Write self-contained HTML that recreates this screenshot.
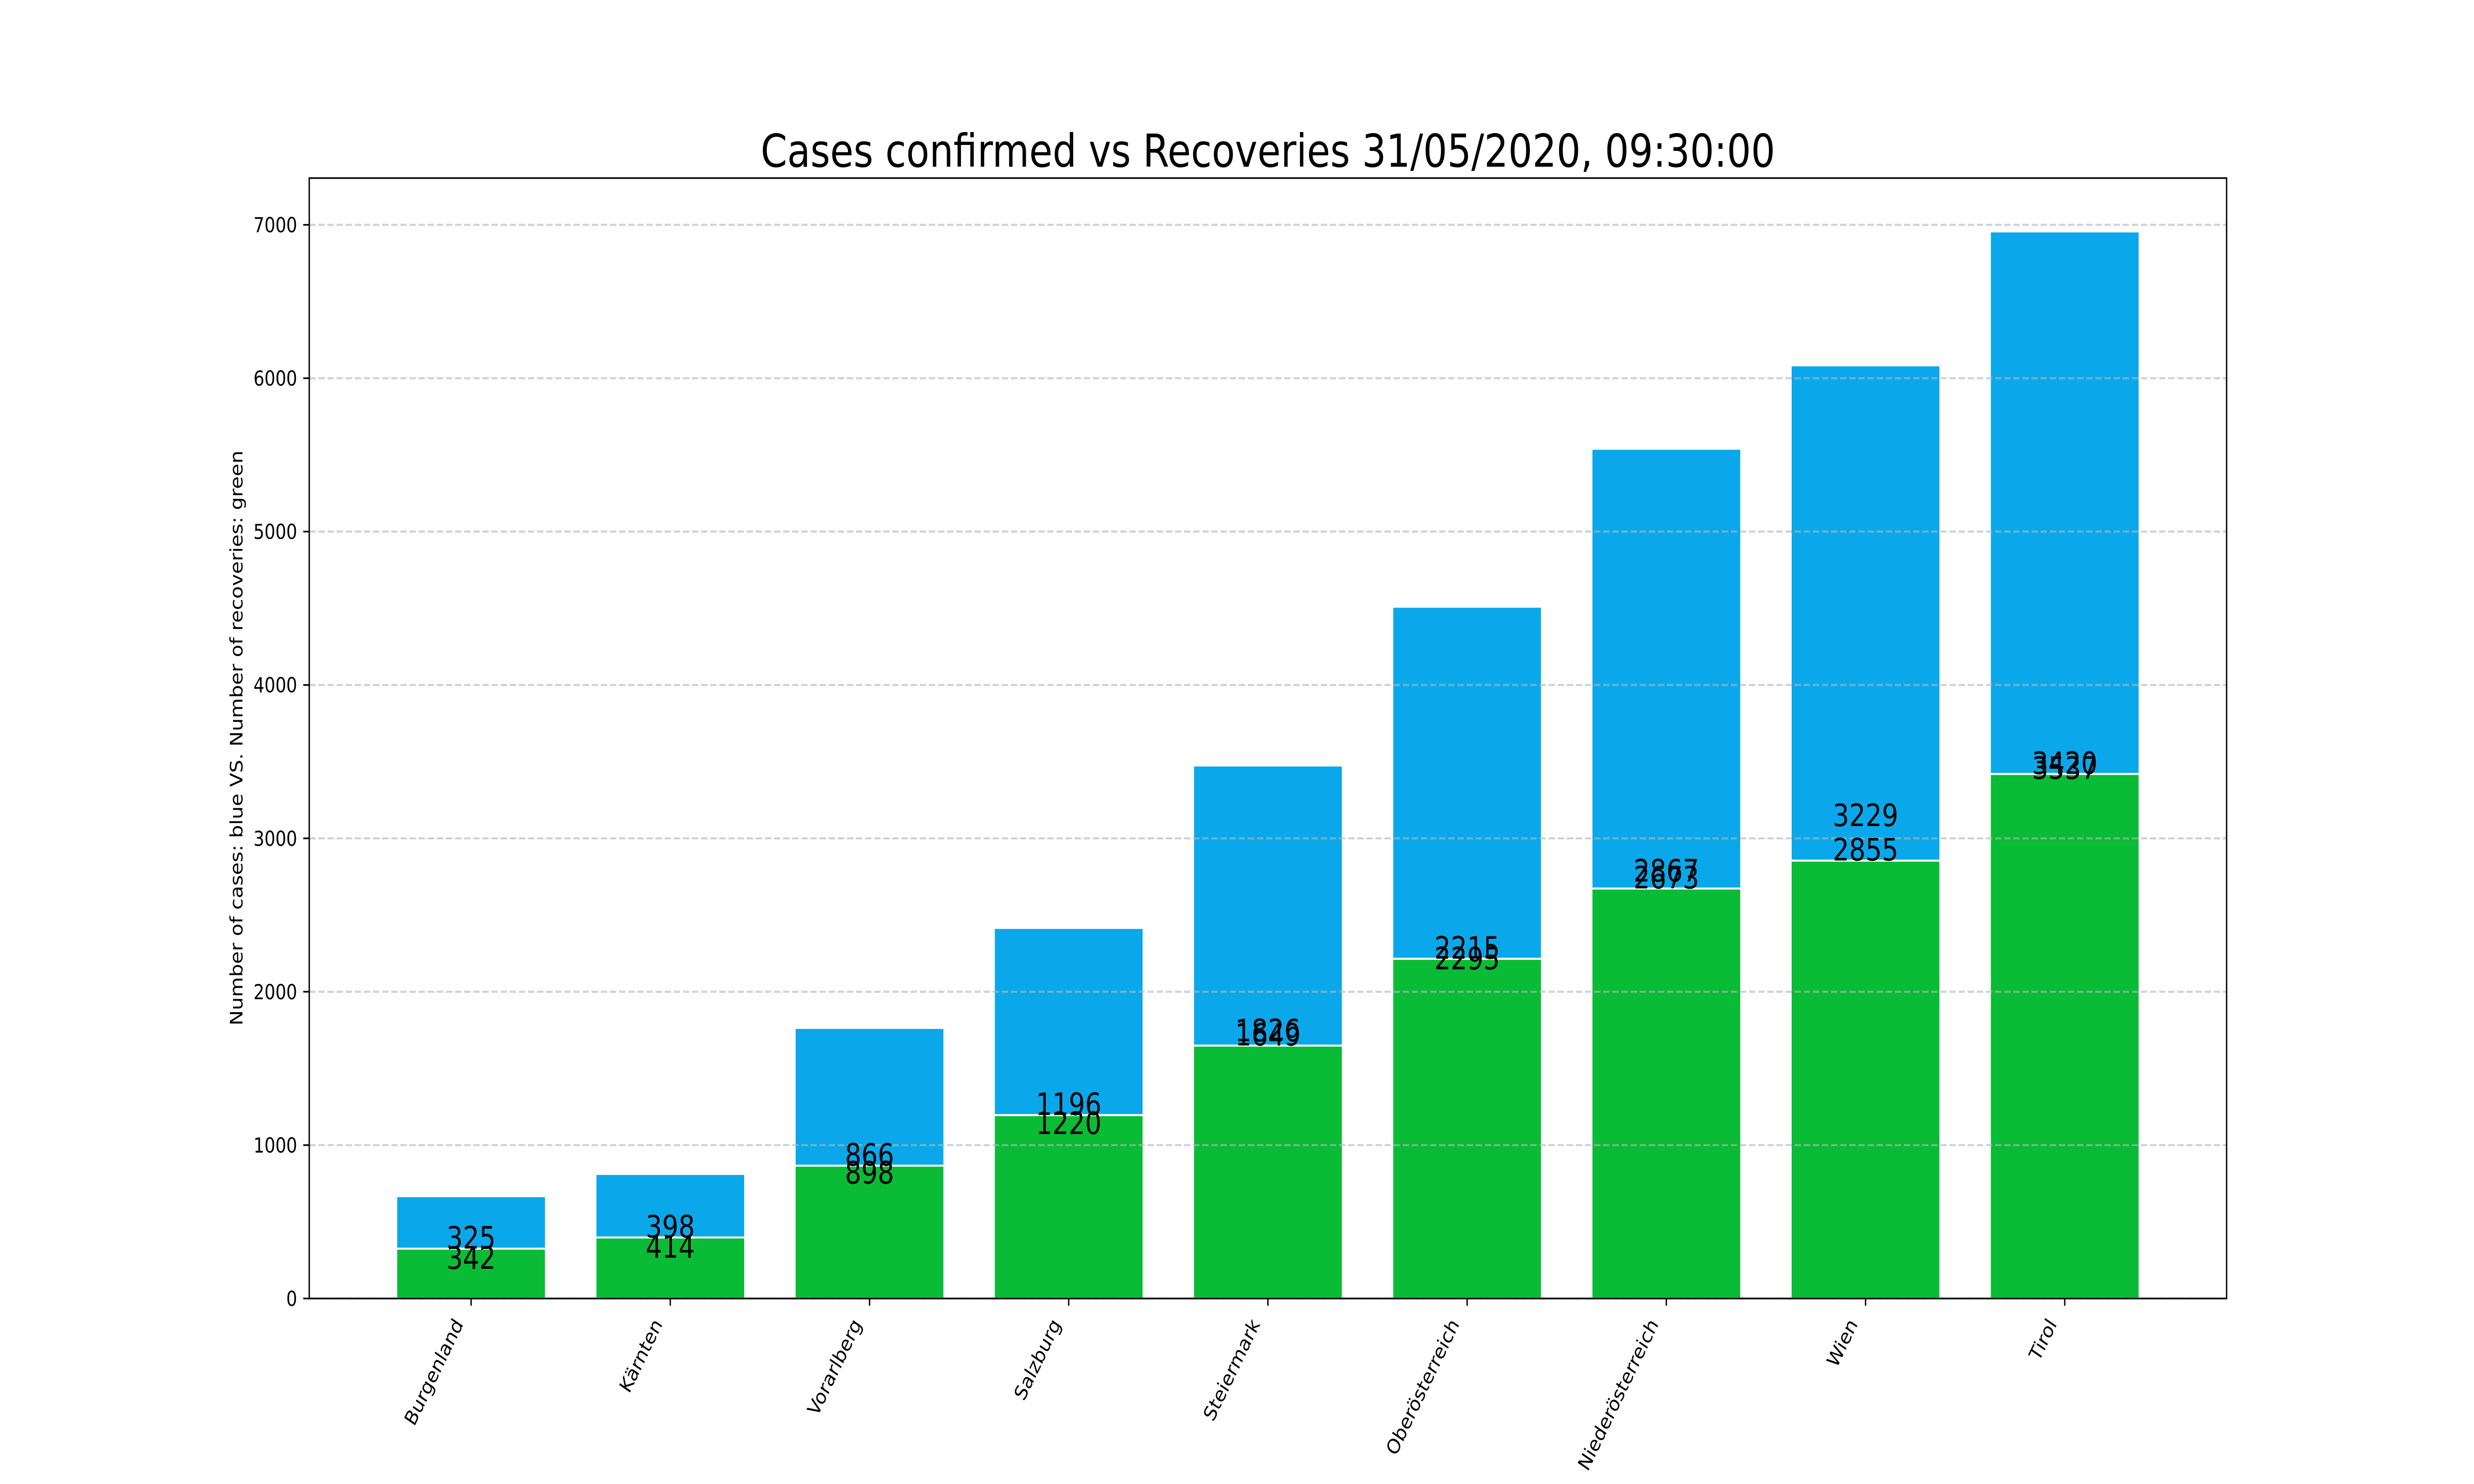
<!DOCTYPE html>
<html>
<head>
<meta charset="utf-8">
<style>
  html, body { margin: 0; padding: 0; background: #ffffff; overflow: hidden; width: 100%; height: 100%; }
  svg { display: block; width: 100vw; height: 100vh; }
  text { font-family: "DejaVu Sans", "Liberation Sans", sans-serif; fill: #000; }
</style>
</head>
<body>
<svg id="chart" viewBox="0 0 6000 3000" preserveAspectRatio="none" xmlns="http://www.w3.org/2000/svg">
  <rect x="0" y="0" width="6000" height="3000" fill="#ffffff"/>
  <g>
    <g id="bars"></g>
    <g id="grid"></g>
    <g id="labels"></g>
    <g id="axes"></g>
    <text x="3075" y="337" font-size="92" text-anchor="middle">Cases confirmed vs Recoveries 31/05/2020, 09:30:00</text>
    <text x="0" y="0" font-size="41.7" text-anchor="middle" transform="translate(588,1492) rotate(-90)">Number of cases: blue VS. Number of recoveries: green</text>
  </g>
</svg>
<script>
const categories = ["Burgenland", "Kärnten", "Vorarlberg", "Salzburg", "Steiermark", "Oberösterreich", "Niederösterreich", "Wien", "Tirol"];
const recoveries = [325, 398, 866, 1196, 1649, 2215, 2673, 2855, 3420];
const activeCases = [342, 414, 898, 1220, 1826, 2295, 2867, 3229, 3537];
const yTicks = [0, 1000, 2000, 3000, 4000, 5000, 6000, 7000];

const NS = "http://www.w3.org/2000/svg";
const L = 750, R = 5400, T = 360, B = 2625;
const barW = 0.75;
const totals = recoveries.map((v, i) => v + activeCases[i]);
const yMax = Math.max(...totals) * 1.05;
const xMin = -barW / 2 - 0.05 * (categories.length - 1 + barW);
const xMax = categories.length - 1 + barW / 2 + 0.05 * (categories.length - 1 + barW);
function xs(v) { return L + (v - xMin) / (xMax - xMin) * (R - L); }
function ys(v) { return B - v / yMax * (B - T); }
function mk(tag, attrs, parent) {
  const el = document.createElementNS(NS, tag);
  for (const k in attrs) el.setAttribute(k, attrs[k]);
  parent.appendChild(el);
  return el;
}
const gBars = document.getElementById("bars");
const gGrid = document.getElementById("grid");
const gLab = document.getElementById("labels");
const gAx = document.getElementById("axes");

categories.forEach((c, i) => {
  const x0 = xs(i - barW / 2), x1 = xs(i + barW / 2);
  const g = mk("rect", { x: x0, y: ys(recoveries[i]), width: x1 - x0, height: ys(0) - ys(recoveries[i]), fill: "#0abb35", stroke: "#ffffff", "stroke-width": 4 }, gBars);
  
  
  const b = mk("rect", { x: x0, y: ys(totals[i]), width: x1 - x0, height: ys(recoveries[i]) - ys(totals[i]), fill: "#0aa8eb", stroke: "#ffffff", "stroke-width": 4 }, gBars);
  
  

  const t1 = mk("text", { x: xs(i), y: ys(recoveries[i]), "font-size": 62.5, "text-anchor": "middle" }, gLab);
  t1.textContent = recoveries[i];
  
  
  const t2 = mk("text", { x: xs(i), y: ys(activeCases[i]) + 46, "font-size": 62.5, "text-anchor": "middle" }, gLab);
  t2.textContent = activeCases[i];
  
  

  const tk = mk("line", { x1: xs(i), x2: xs(i), y1: B, y2: B + 14.6, stroke: "#000", "stroke-width": 3.3 }, gAx);
  
  
  const ex = xs(i) - 18, ey = 2677;
  const xl = mk("text", { x: 0, y: 0, "font-size": 41.7, "text-anchor": "end", transform: "translate(" + ex + "," + ey + ") rotate(-60)" }, gAx);
  xl.textContent = c;
  
  
});

yTicks.forEach(v => {
  const y = ys(v);
  const gl = mk("line", { x1: L, x2: R, y1: y, y2: y, stroke: "#b0b8b8", "stroke-opacity": 0.62, "stroke-width": 4.2, "stroke-dasharray": "15.4 6.7" }, gGrid);
  
  
  const tk = mk("line", { x1: L - 14.6, x2: L, y1: y, y2: y, stroke: "#000", "stroke-width": 3.3 }, gAx);
  
  
  const tl = mk("text", { x: L - 29.2, y: y + 15, "font-size": 41.7, "text-anchor": "end" }, gAx);
  tl.textContent = v;
  
  
});

const frame = mk("rect", { x: L, y: T, width: R - L, height: B - T, fill: "none", stroke: "#000", "stroke-width": 3.3 }, gAx);


</script>
</body>
</html>
